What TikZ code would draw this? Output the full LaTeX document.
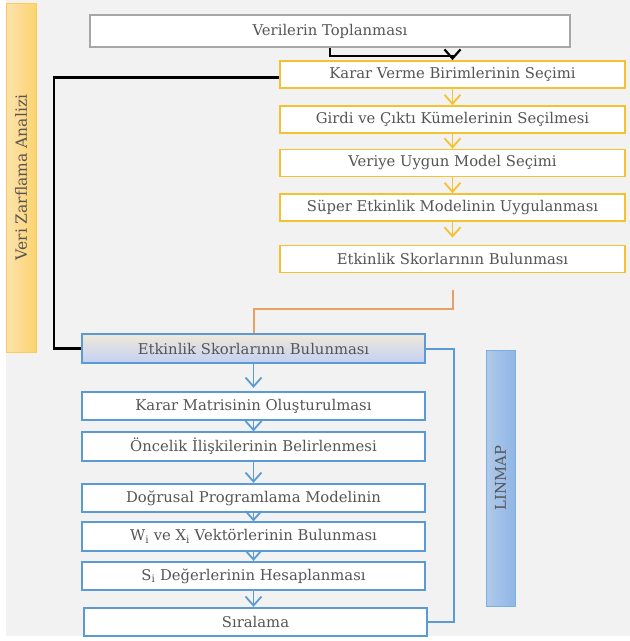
\documentclass[tikz,border=0pt]{standalone}
\usepackage{fontspec}
\setmainfont{DejaVu Serif}
\usetikzlibrary{arrows.meta,calc}
\definecolor{bgc}{HTML}{F2F2F2}
\definecolor{txt}{HTML}{555555}
\definecolor{ycol}{HTML}{F5C12E}
\definecolor{bcol}{HTML}{5B9BD5}
\definecolor{ocol}{HTML}{E9A064}
\definecolor{gcol}{HTML}{A6A6A6}
\definecolor{htop}{HTML}{F0E8DA}
\definecolor{hbot}{HTML}{C3D1F3}
\definecolor{obarl}{HTML}{FDE2AE}
\definecolor{obarr}{HTML}{FCD46E}
\definecolor{lbarl}{HTML}{B0CAEA}
\definecolor{lbarr}{HTML}{8FB6E6}
\begin{document}
\begin{tikzpicture}[x=1pt,y=-1pt,
  lbl/.style={font=\fontsize{14.8}{17}\selectfont, text=txt, inner sep=0pt},
  vbox/.style={lbl, draw=gcol, line width=1.8pt, fill=white, minimum width=480pt, minimum height=32pt},
  ybox/.style={lbl, draw=ycol, line width=1.8pt, fill=white, minimum width=345pt, minimum height=27pt},
  bbox/.style={lbl, draw=bcol, line width=1.8pt, fill=white, minimum width=343pt, minimum height=28.5pt},
  vtip/.style={-{Straight Barb[length=9pt,width=16pt]}},
  yarr/.style={vtip, draw=ycol, line width=1.8pt},
  barr/.style={vtip, draw=bcol, line width=1.8pt},
]
\useasboundingbox (0,0) rectangle (630,641);
\fill[white] (0,0) rectangle (630,641);
\fill[bgc] (6,0) rectangle (630,636);

% side bars
\node[lbl, font=\fontsize{15.5}{17}\selectfont, draw=ycol!80, line width=0.8pt, left color=obarl, right color=obarr,
  minimum width=30pt, minimum height=349pt] (vza) at (21,177.5) {\rotatebox{90}{Veri Zarflama Analizi}};
\node[lbl, draw=bcol!80, line width=0.8pt, left color=lbarl, right color=lbarr,
  minimum width=29pt, minimum height=256pt] (lin) at (500.5,478) {\rotatebox{90}{LINMAP}};

% top and yellow column
\node[vbox] (vt) at (330,31) {Verilerin Toplanması};
\node[ybox] (y1) at (452.5,74.5) {Karar Verme Birimlerinin Seçimi};
\node[ybox] (y2) at (452.5,119.5) {Girdi ve Çıktı Kümelerinin Seçilmesi};
\node[ybox] (y3) at (452.5,163) {Veriye Uygun Model Seçimi};
\node[ybox] (y4) at (452.5,207.5) {Süper Etkinlik Modelinin Uygulanması};
\node[ybox] (y5) at (452.5,259) {Etkinlik Skorlarının Bulunması};

% blue column
\node[bbox, top color=htop, bottom color=hbot] (b0) at (253.5,348.5) {Etkinlik Skorlarının Bulunması};
\node[bbox] (b1) at (253.5,406) {Karar Matrisinin Oluşturulması};
\node[bbox] (b2) at (253.5,446.5) {Öncelik İlişkilerinin Belirlenmesi};
\node[bbox] (b3) at (253.5,498) {Doğrusal Programlama Modelinin};
\node[bbox] (b4) at (253.5,536.5) {W\textsubscript{i} ve X\textsubscript{i} Vektörlerinin Bulunması};
\node[bbox] (b5) at (253.5,576) {S\textsubscript{i} Değerlerinin Hesaplanması};
\node[bbox] (b6) at (255.5,622) {Sıralama};

% connectors
\draw[vtip, line width=2.2pt] (vt.south) -- ++(0,8) -| (y1.north);
\draw[yarr] (y1.south) -- (y2.north);
\draw[yarr] (y2.south) -- (y3.north);
\draw[yarr] (y3.south) -- (y4.north);
\draw[yarr] (y4.south) -- ([yshift=7pt]y5.north);
\draw[line width=2.6pt] ([yshift=-3pt]y1.west) -- ++(-225,0) |- (b0.west);
\draw[ocol, line width=2pt] ([yshift=-17pt]y5.south) -- ++(0,19) -| (b0.north);
\draw[bcol, line width=2pt] (b0.east) -- ++(28,0) |- (b6.east);
\draw[barr] (b0.south) -- ([yshift=3pt]b1.north);
\draw[barr] (b1.south) -- (b2.north);
\draw[barr] (b2.south) -- (b3.north);
\draw[barr] (b3.south) -- (b4.north);
\draw[barr] (b4.south) -- (b5.north);
\draw[barr] (b5.south) -- (b5.south |- b6.north);
\end{tikzpicture}
\end{document}
